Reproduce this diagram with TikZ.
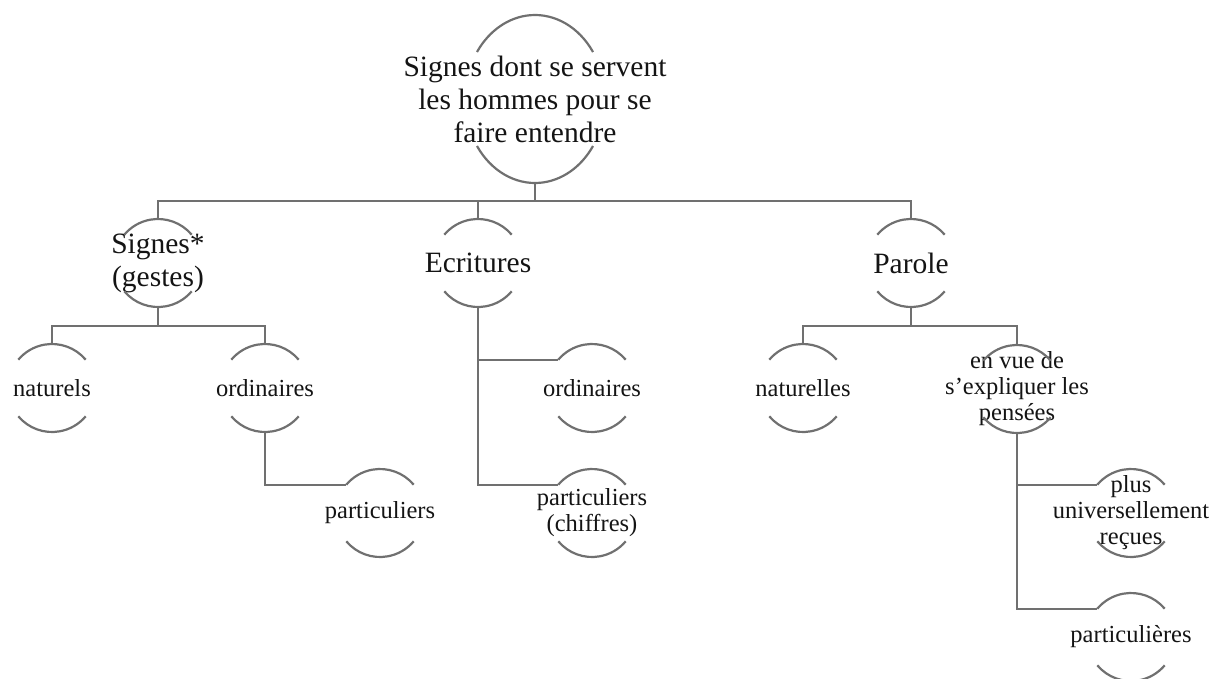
\documentclass[tikz,border=0pt]{standalone}
\usepackage{fontspec}
\setmainfont{Liberation Serif}
\definecolor{lncol}{RGB}{112,112,112}
\definecolor{txtcol}{RGB}{20,20,20}
\tikzset{
  ln/.style={draw=lncol, line width=2.2pt},
  big/.style={rectangle, inner sep=0pt, minimum width=88pt, minimum height=88pt, align=center, text=txtcol,
    font=\fontsize{29.5pt}{33pt}\selectfont},
  small/.style={rectangle, inner sep=0pt, minimum width=88pt, minimum height=88pt, align=center, text=txtcol,
    font=\fontsize{24.5pt}{26pt}\selectfont},
  topnode/.style={big, minimum width=140pt, minimum height=168pt},
}
% small circle arcs (radius 44) around a named node
\newcommand{\ringarcs}[1]{%
  \draw[ln] ([shift={(40:44pt)}]#1.center) arc[start angle=40, end angle=140, radius=44pt];
  \draw[ln] ([shift={(220:44pt)}]#1.center) arc[start angle=220, end angle=320, radius=44pt];
}
\begin{document}
\begin{tikzpicture}[x=1pt, y=1pt]
\useasboundingbox (0,0) rectangle (1210,-678);

% nodes
\node[topnode] (top) at (535,-99) {Signes dont se servent\\les hommes pour se\\faire entendre};
\node[big] (signes) at (158,-263) {Signes*\\(gestes)};
\node[big] (ecr) at (478,-263) {Ecritures};
\node[big] (parole) at (911,-263) {Parole};
\node[small] (nat) at (52,-388) {naturels};
\node[small] (ord) at (265,-388) {ordinaires};
\node[small] (ordpart) at (380,-513) {particuliers};
\node[small] (ecrord) at (592,-388) {ordinaires};
\node[small] (ecrpart) at (592,-513) {particuliers\\(chiffres)};
\node[small] (natl) at (803,-388) {naturelles};
\node[small] (envue) at (1017,-389) {en vue de\\s'expliquer les\\pensées};
\node[small] (plus) at (1131,-513) {plus\\universellement\\reçues};
\node[small] (partl) at (1131,-637) {particulières};

% arcs of the top node (ellipse 70 x 84)
\draw[ln] ([shift={(34:70pt and 84pt)}]top.center) arc[start angle=34, end angle=146, x radius=70pt, y radius=84pt];
\draw[ln] ([shift={(214:70pt and 84pt)}]top.center) arc[start angle=214, end angle=326, x radius=70pt, y radius=84pt];

% arcs of the other nodes
\ringarcs{signes}
\ringarcs{ecr}
\ringarcs{parole}
\ringarcs{nat}
\ringarcs{ord}
\ringarcs{ordpart}
\ringarcs{ecrord}
\ringarcs{ecrpart}
\ringarcs{natl}
\ringarcs{envue}
\ringarcs{plus}
\ringarcs{partl}

% left ends of the upper arcs for side connectors
\coordinate (ordpartL) at ([shift={(140:44pt)}]ordpart.center);
\coordinate (ecrordL) at ([shift={(140:44pt)}]ecrord.center);
\coordinate (ecrpartL) at ([shift={(140:44pt)}]ecrpart.center);
\coordinate (plusL) at ([shift={(140:44pt)}]plus.center);
\coordinate (partlL) at ([shift={(140:44pt)}]partl.center);

% connectors
\draw[ln] (top.south) -- ++(0,-18) -| (signes.north);
\draw[ln] (top.south) -- ++(0,-18) -| (ecr.north);
\draw[ln] (top.south) -- ++(0,-18) -| (parole.north);

\draw[ln] (signes.south) -- ++(0,-19) -| (nat.north);
\draw[ln] (signes.south) -- ++(0,-19) -| (ord.north);
\draw[ln] (ord.south) |- (ordpartL);

\draw[ln] (ecr.south) |- (ecrordL);
\draw[ln] (ecr.south) |- (ecrpartL);

\draw[ln] (parole.south) -- ++(0,-19) -| (natl.north);
\draw[ln] (parole.south) -- ++(0,-19) -| (envue.north);
\draw[ln] (envue.south) |- (plusL);
\draw[ln] (envue.south) |- (partlL);
\end{tikzpicture}
\end{document}
